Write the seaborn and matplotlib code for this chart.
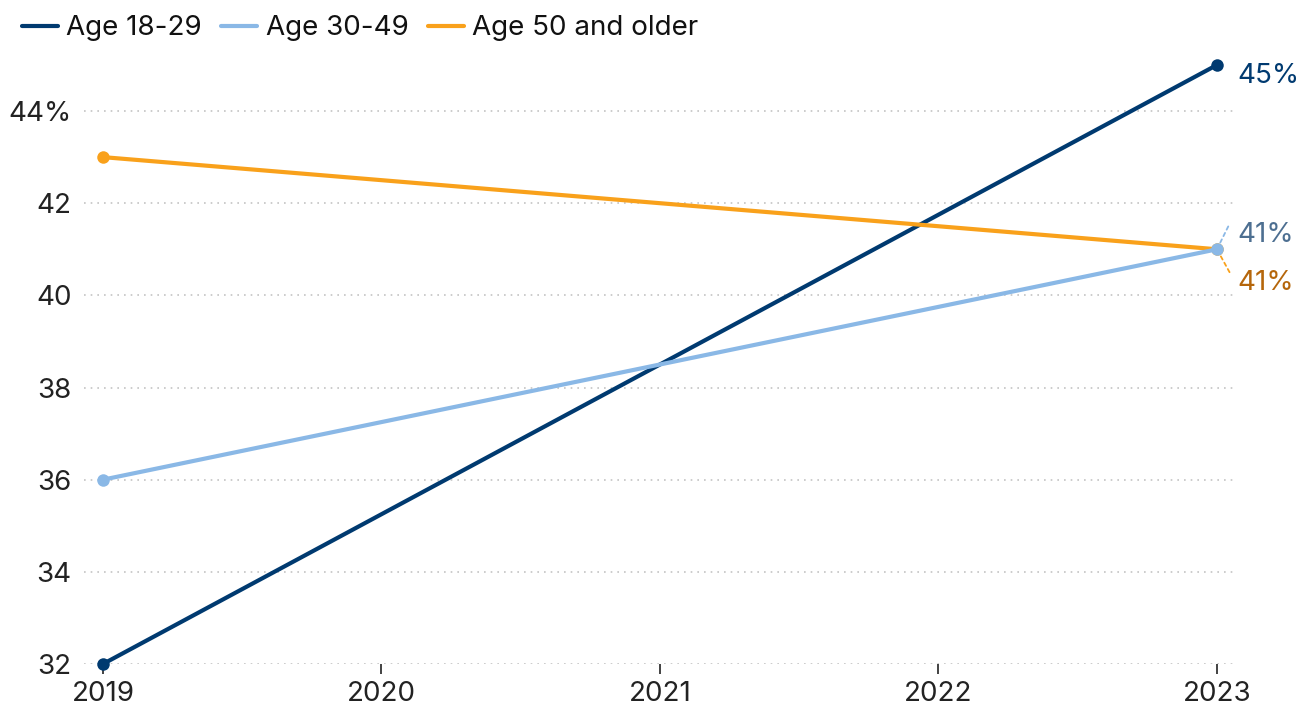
import pandas as pd
import matplotlib
matplotlib.use('Agg')
import matplotlib.pyplot as plt
import seaborn as sns

# data
years = [2019, 2023]
age_18_29 = [32, 45]
age_30_49 = [36, 41]
age_50_up = [43, 41]
groups = ['Age 18-29', 'Age 30-49', 'Age 50 and older']
colors = ['#003a70', '#8ab8e6', '#f9a11b']
label_colors = ['#003a70', '#4d6f91', '#b5660b']
y_ticks = [32, 34, 36, 38, 40, 42, 44]

df = pd.DataFrame({
    'year': years * 3,
    'value': age_18_29 + age_30_49 + age_50_up,
    'group': [groups[0]] * 2 + [groups[1]] * 2 + [groups[2]] * 2,
})

sns.set_style('white')
plt.rcParams['font.family'] = ['Inter', 'DejaVu Sans']
FS = 20

fig = plt.figure(figsize=(13.02, 7.17), dpi=100)
ax = fig.add_axes([84 / 1302, 53 / 717, (1237 - 84) / 1302, (664 - 48) / 717])

sns.lineplot(data=df, x='year', y='value', hue='group', palette=colors,
             marker='o', markersize=9, markeredgewidth=0, linewidth=3,
             ax=ax, legend=False)
# keep the end markers whole, light blue sits on top at 2023
for i, ln in enumerate(ax.lines):
    ln.set_clip_on(False)
    ln.set_zorder([3, 5, 4][i])

ax.set_xlim(2018.932, 2023.072)
ax.set_ylim(32, 32 + (664 - 48) / 46.08)
ax.set_xticks([2019, 2020, 2021, 2022, 2023])
ax.set_yticks(y_ticks)
ax.set_yticklabels([str(t) if t != 44 else '44%' for t in y_ticks])
ax.set_xlabel('')
ax.set_ylabel('')
for s in ax.spines.values():
    s.set_visible(False)
ax.tick_params(axis='x', length=7, width=1.2, color='#222222', labelsize=FS,
               pad=5, labelcolor='#222222', bottom=True)
ax.tick_params(axis='y', length=0, labelsize=FS, pad=9, labelcolor='#222222')
ax.grid(axis='y', color='#c4c4c4', linestyle=(0, (1, 3)), linewidth=1.2)
ax.grid(axis='x', visible=False)

# end labels
last = [age_18_29[-1], age_30_49[-1], age_50_up[-1]]
ax.annotate(f'{last[0]}%', (2023, last[0]), xytext=(15, -8), textcoords='offset points',
            color=label_colors[0], fontsize=FS, va='center', ha='left')
# leader lines for the overlapping 41% labels
ax.annotate(f'{last[1]}%', (2023, last[1]), xytext=(15, 10), textcoords='offset points',
            color=label_colors[1], fontsize=FS, va='center', ha='left')
ax.annotate('', (2023, last[1]), xytext=(2023.045, 41.55),
            arrowprops=dict(arrowstyle='-', color=colors[1], linestyle=(0, (2, 2)), lw=1.3))
ax.annotate(f'{last[2]}%', (2023, last[2]), xytext=(15, -24), textcoords='offset points',
            color=label_colors[2], fontsize=FS, va='center', ha='left')
ax.annotate('', (2023, last[2]), xytext=(2023.05, 40.45),
            arrowprops=dict(arrowstyle='-', color=colors[2], linestyle=(0, (2, 2)), lw=1.3))

handles = [plt.Line2D([], [], color=c, linewidth=3) for c in colors]
fig.legend(handles, groups, loc='upper left', bbox_to_anchor=(0.005, 1.0), ncol=3,
           frameon=False, fontsize=FS, handlelength=1.3, handletextpad=0.3,
           columnspacing=0.7, borderaxespad=0.15, labelcolor='#111111')

fig.savefig('out.png', dpi=100)
